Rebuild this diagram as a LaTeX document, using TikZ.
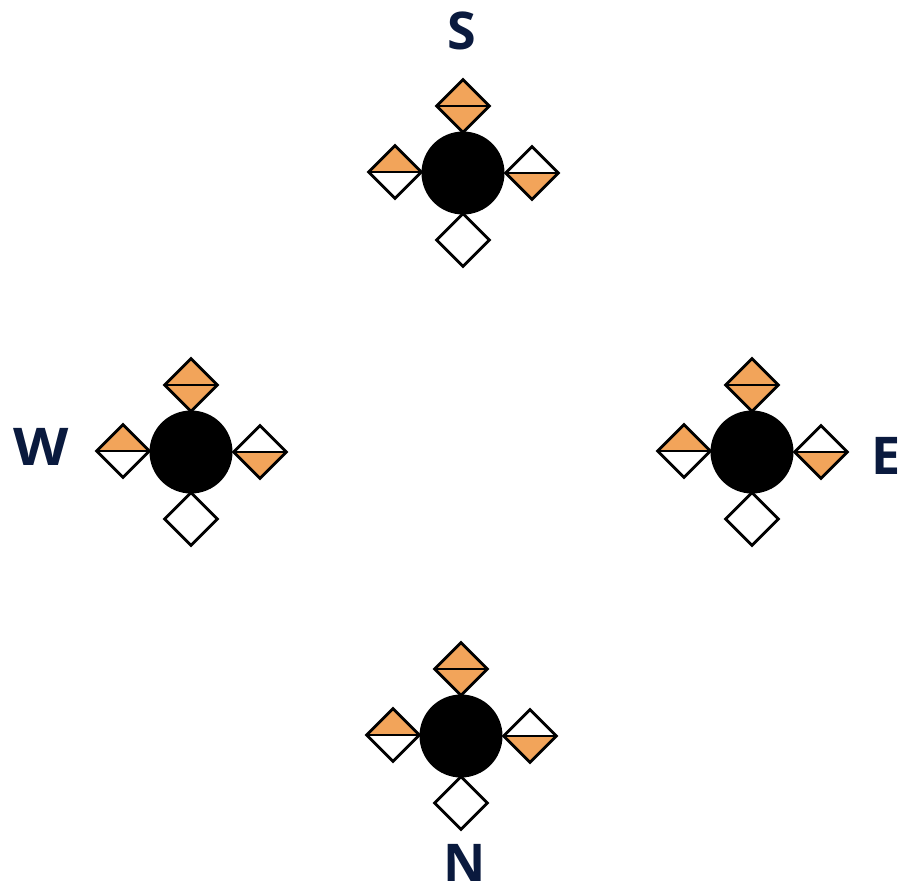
\documentclass[tikz,border=0pt]{standalone}
\usepackage{fontspec}
\newfontfamily\lblfont{Open Sans}
\usetikzlibrary{shapes.geometric}
\definecolor{orng}{RGB}{242,164,90}
\definecolor{navy}{RGB}{10,26,62}
\tikzset{
  ball/.style={circle, fill=black, inner sep=0pt, minimum size=83pt},
  dia/.style={shape=diamond, draw=black, line width=2.8pt, inner sep=0pt,
    minimum width=54pt, minimum height=54pt, fill=white},
  bothor/.style={path picture={\fill[orng] (path picture bounding box.north west) rectangle (path picture bounding box.south east);
     \draw[line width=2.8pt] (path picture bounding box.west) -- (path picture bounding box.east);}},
  upor/.style={path picture={\fill[orng] (path picture bounding box.north west) rectangle (path picture bounding box.east);
     \draw[line width=2.8pt] (path picture bounding box.west) -- (path picture bounding box.east);}},
  downor/.style={path picture={\fill[orng] (path picture bounding box.west) rectangle (path picture bounding box.south east);
     \draw[line width=2.8pt] (path picture bounding box.west) -- (path picture bounding box.east);}},
  lbl/.style={font=\lblfont\bfseries\fontsize{52}{52}\selectfont, text=navy, inner sep=0pt, anchor=base}
}
\newcommand\clusterat[3]{%
  \node[ball] (#1) at (#2,#3) {};
  \node[dia,bothor] (#1t) at ([shift={(0,-67)}]#1) {};
  \node[dia,upor] (#1l) at ([shift={(-68,-1)}]#1) {};
  \node[dia,downor] (#1r) at ([shift={(69,0)}]#1) {};
  \node[dia] (#1b) at ([shift={(0,67)}]#1) {};
}
\begin{document}
\begin{tikzpicture}[x=1pt,y=-1pt]
  \useasboundingbox (0,0) rectangle (908,894);
  \clusterat{cs}{463}{173}
  \clusterat{cw}{191}{452}
  \clusterat{ce}{752}{452}
  \clusterat{cn}{461}{736}
  \node[lbl] (S) at (462,49) {S};
  \node[lbl, xscale=1.1] (W) at (41,465) {W};
  \node[lbl] (E) at (886,474) {E};
  \node[lbl] (N) at (465,881) {N};
\end{tikzpicture}
\end{document}
